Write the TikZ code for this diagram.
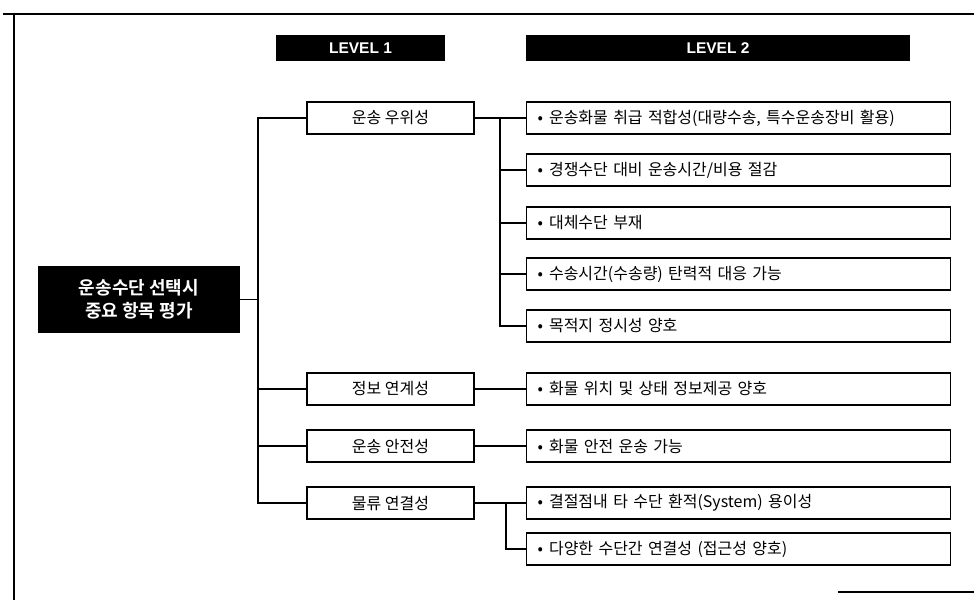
\documentclass[tikz,border=0pt]{standalone}
\usepackage{fontspec}
\setmainfont{Liberation Sans}
\newfontfamily\kr{Noto Sans CJK KR}
\newfontfamily\krb{Noto Sans CJK KR Bold}
\begin{document}
\begin{tikzpicture}[x=1pt,y=-1pt,
  hdr/.style={fill=black,text=white,font=\bfseries\fontsize{15.5}{17}\selectfont,minimum height=26pt,inner sep=0pt},
  lone/.style={draw=black,line width=1.2pt,fill=white,minimum width=167pt,minimum height=32pt,inner sep=0pt,font=\kr\fontsize{16}{18}\selectfont},
  ltwo/.style={draw=black,line width=1.2pt,fill=white,minimum height=32pt,inner sep=0pt,text width=424pt,align=left,anchor=west,font=\kr\fontsize{16}{18}\selectfont},
  conn/.style={line width=1.1pt}]
\useasboundingbox (0,0) rectangle (974,600);
% frame
\draw[line width=1.2pt] (3,14) -- (974,14);
\draw[line width=1.2pt] (14,14) -- (14,600);
\draw[line width=1.2pt] (838,592) -- (974,592);
% headers
\node[hdr,minimum width=169pt] (h1) at (360.5,48) {LEVEL 1};
\node[hdr,minimum width=384pt] (h2) at (718,48) {LEVEL 2};
% root
\node[fill=black,text=white,minimum width=202pt,minimum height=67pt,inner sep=0pt,align=center,font=\krb\fontsize{18}{23}\selectfont] (root) at (139,299.5) {운송수단 선택시\\중요 항목 평가};
% level 1
\node[lone] (a) at (390.5,118) {운송 우위성};
\node[lone] (b) at (390.5,389) {정보 연계성};
\node[lone] (c) at (390.5,446) {운송 안전성};
\node[lone] (d) at (390.5,503) {물류 연결성};
% level 2
\node[ltwo] (a1) at (526,118) {\hspace{11pt}•\hspace{6pt}운송화물 취급 적합성(대량수송, 특수운송장비 활용)};
\node[ltwo] (a2) at (526,170) {\hspace{11pt}•\hspace{6pt}경쟁수단 대비 운송시간/비용 절감};
\node[ltwo] (a3) at (526,223) {\hspace{11pt}•\hspace{6pt}대체수단 부재};
\node[ltwo] (a4) at (526,274) {\hspace{11pt}•\hspace{6pt}수송시간(수송량) 탄력적 대응 가능};
\node[ltwo] (a5) at (526,326) {\hspace{11pt}•\hspace{6pt}목적지 정시성 양호};
\node[ltwo] (b1) at (526,389) {\hspace{11pt}•\hspace{6pt}화물 위치 및 상태 정보제공 양호};
\node[ltwo] (c1) at (526,446) {\hspace{11pt}•\hspace{6pt}화물 안전 운송 가능};
\node[ltwo] (d1) at (526,503) {\hspace{11pt}•\hspace{6pt}결절점내 타 수단 환적(System) 용이성};
\node[ltwo] (d2) at (526,549) {\hspace{11pt}•\hspace{6pt}다양한 수단간 연결성 (접근성 양호)};
% trunk
\coordinate (t) at (258,0);
\draw[conn] (root.east) -- (root.east -| t);
\draw[conn] (a.west) -- (a.west -| t) -- (d.west -| t) -- (d.west);
\draw[conn] (b.west -| t) -- (b.west);
\draw[conn] (c.west -| t) -- (c.west);
% level 1 to level 2
\coordinate (u) at (500,0);
\draw[conn] (a.east) -- (a1.west);
\draw[conn] (a.east -| u) -- (a5.west -| u) -- (a5.west);
\draw[conn] (a2.west -| u) -- (a2.west);
\draw[conn] (a3.west -| u) -- (a3.west);
\draw[conn] (a4.west -| u) -- (a4.west);
\draw[conn] (b.east) -- (b1.west);
\draw[conn] (c.east) -- (c1.west);
\coordinate (v) at (506,0);
\draw[conn] (d.east) -- (d1.west);
\draw[conn] (d1.west -| v) -- (d2.west -| v) -- (d2.west);
\end{tikzpicture}
\end{document}
